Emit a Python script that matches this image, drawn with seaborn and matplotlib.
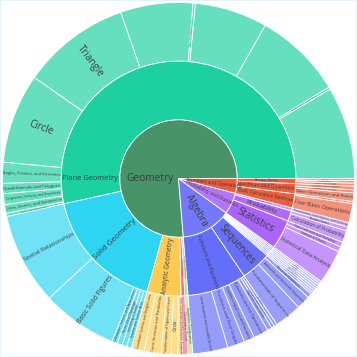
import numpy as np
import pandas as pd
import matplotlib
matplotlib.use("Agg")
import matplotlib.pyplot as plt
import seaborn as sns
from matplotlib.textpath import TextPath
from matplotlib.font_manager import FontProperties
from matplotlib.colors import to_rgb, to_hex

sns.set_theme(style="white")
plt.rcParams["font.family"] = ["Open Sans", "DejaVu Sans"]

# ---------------- data (leaf level, counter-clockwise from 3 o'clock) ----------------
leaf_domain = (
    ["Geometry"] * 13 + ["Geometry"] * 6 + ["Geometry"] * 5 + ["Geometry"] * 2
    + ["Algebra"] * 7 + ["Algebra"] * 3 + ["Algebra"] * 7
    + ["Probability and Statistics"] * 6
    + ["Numbers and Operations"] * 8
)
leaf_branch = (
    ["Plane Geometry"] * 13
    + ["Solid Geometry"] * 6
    + ["Analytic Geometry"] * 5
    + ["Geometric Proof", "Geometric Construction"]
    + ["Functions and Equations"] * 7
    + ["Sequences"] * 3
    + ["Trigonometry", "Vectors", "Complex Numbers", "Matrices", "Logarithms", "Exponents", "Sets"]
    + ["Statistics"] * 3 + ["Probability"] * 2 + ["Counting Principles"]
    + ["Basic Calculation Methods"] * 2 + ["Maximum and Quantities"] * 3 + ["Number Theory"] * 3
)
leaf_topic = [
    "Plane Figures", "Basic Relationships and Measurements", "Geometric Measurement",
    "Symmetry and Transformations", "Relationships Between Basic Figures", "Area and Perimeter",
    "Triangle", "Circle", "Angles, Position, and Directions", "Quadrilaterals and Polygons",
    "Congruence, Similarity, and Proportions", "Lines, Vectors, and Symmetries",
    "Measurement and Estimation",
    "Spatial Relationships", "Basic Solid Figures", "Calculation, Vectors, and Applications",
    "Three-View Drawings", "Unfolding of Solids", "Volume and Surface Area",
    "Coordinate Systems and Straight Lines", "Conic Sections and Parabolas",
    "Transformation of Figures and Curves", "Circle", "Polar Coordinates and Parametric Equations",
    "Geometric Proof", "Geometric Construction",
    "Linear Equations and Inequality Systems", "Functions and Their Graphs",
    "Quadratic Equations and Functions", "Relations and Set Operations",
    "Algebraic Expressions", "Polynomials and Factoring", "Inequalities",
    "Fundamentals of Sequences", "Arithmetic and Geometric Sequences", "Recursive Sequences",
    "Trigonometric Functions", "Vector Operations", "Complex Numbers", "Matrices",
    "Logarithms", "Exponents", "Sets",
    "Statistical Data Analysis", "Statistical Charts", "Data Collection and Sampling",
    "Calculation of Probability", "Random Events", "Permutations, Combinations, and Counting",
    "Four Basic Operations", "Mixed Operations",
    "Basic Operations and Ratios", "Fractions and Decimals", "Units and Measurement",
    "Factors and Multiples", "Prime Numbers", "Divisibility",
]
leaf_count = [
    30.5, 0.8, 29.2, 24.0, 0.8, 23.9, 35.8, 29.7, 6.9, 3.4, 3.6, 2.9, 1.0,
    30.3, 25.0, 1.8, 1.7, 1.6, 1.6,
    4.3, 5.5, 3.3, 2.2, 1.5,
    1.8, 1.6,
    11.6, 5.7, 3.5, 5.0, 1.5, 1.0, 1.0,
    9.0, 4.5, 1.5,
    0.75, 0.75, 0.75, 0.75, 0.75, 0.75, 0.7,
    11.3, 1.7, 1.6,
    3.9, 1.3, 1.5,
    6.3, 0.7,
    2.8, 1.0, 1.2,
    1.0, 0.8, 0.7,
]

domain_colors = {
    "Geometry": "#489468",
    "Algebra": "#7479f9",
    "Probability and Statistics": "#b476f9",
    "Numbers and Operations": "#ee5a3c",
}
branch_colors = {
    "Plane Geometry": "#1dd0a0", "Solid Geometry": "#2dd5f2", "Analytic Geometry": "#fecb52",
    "Geometric Proof": "#ff6692", "Geometric Construction": "#b6e880",
    "Functions and Equations": "#636efa", "Sequences": "#6870f8",
    "Trigonometry": "#8d93fb", "Vectors": "#8d93fb", "Complex Numbers": "#8d93fb",
    "Matrices": "#8d93fb", "Logarithms": "#8d93fb", "Exponents": "#8d93fb", "Sets": "#8d93fb",
    "Statistics": "#ab63fa", "Probability": "#b06cf8", "Counting Principles": "#c49bfb",
    "Basic Calculation Methods": "#ef5f3f", "Maximum and Quantities": "#ef5f3f",
    "Number Theory": "#ef5f3f",
}
hidden_labels = {"Plane Figures", "Geometric Measurement", "Symmetry and Transformations",
                 "Area and Perimeter"}

# ---------------- build table ----------------
df = pd.DataFrame({"domain": leaf_domain, "branch": leaf_branch,
                   "topic": leaf_topic, "count": leaf_count})
total = df["count"].sum()

def lighten(c, t):
    r, g, b = to_rgb(c)
    return to_hex((r + (1 - r) * t, g + (1 - g) * t, b + (1 - b) * t))

DPI = 100
fig = plt.figure(figsize=(3.57, 3.57), dpi=DPI)
fig.patch.set_facecolor("white")
ax = fig.add_axes([0, 0, 1, 1], projection="polar")
ax.set_ylim(0, 3 * 178.5 / 176)
ax.set_axis_off()
UNIT = 176 / 3.0  # px per ring
fp = FontProperties(family="Open Sans")
TXT = "#3c3c3c"

def fit_size(text, length_px, height_px, cap):
    w = TextPath((0, 0), text, size=1, prop=fp).get_extents().width
    px_per_pt = DPI / 72.0
    fs_len = length_px / (w * px_per_pt)
    fs_h = height_px / (1.05 * px_per_pt)
    return min(cap, fs_len, fs_h)

def radial_label(text, th0, th1, r0, r1, r_text=None, cap=7.0):
    mid = (th0 + th1) / 2
    r_text = (r0 + r1) / 2 if r_text is None else r_text
    dth = np.deg2rad(th1 - th0)
    fs = fit_size(text, (r1 - r0) * UNIT * 0.96, r_text * UNIT * dth * 0.85, cap)
    if fs < 1.0:
        return
    m = (mid + 180) % 360 - 180
    rot = m if -90 < m <= 90 else m - 180
    ax.text(np.deg2rad(mid), r_text, text, rotation=rot, rotation_mode="anchor",
            ha="center", va="center", fontsize=fs, color=TXT)

def draw_ring(starts, widths, ring, colors):
    ax.bar(np.deg2rad(starts), 1.0, width=np.deg2rad(widths), bottom=ring,
           align="edge", color=colors, edgecolor="white", linewidth=0.6)

# ring 3: leaves
deg = df["count"] / total * 360
df["start"] = deg.cumsum() - deg
df["width"] = deg
draw_ring(df["start"].values, df["width"].values, 2,
          [lighten(branch_colors[b], 0.32) for b in df["branch"]])
for _, row in df.iterrows():
    if row["topic"] not in hidden_labels:
        radial_label(row["topic"], row["start"], row["start"] + row["width"], 2, 3)

# ring 2: branches
br = df.groupby(["domain", "branch"], sort=False)["count"].sum().reset_index()
bdeg = br["count"] / total * 360
br["start"] = bdeg.cumsum() - bdeg
br["width"] = bdeg
draw_ring(br["start"].values, br["width"].values, 1,
          [branch_colors[b] for b in br["branch"]])
for _, row in br.iterrows():
    if row["branch"] == "Plane Geometry":
        continue
    radial_label(row["branch"], row["start"], row["start"] + row["width"], 1, 2)

# ring 1: domains
dm = df.groupby("domain", sort=False)["count"].sum().reset_index()
ddeg = dm["count"] / total * 360
dm["start"] = ddeg.cumsum() - ddeg
dm["width"] = ddeg
draw_ring(dm["start"].values, dm["width"].values, 0,
          [domain_colors[d] for d in dm["domain"]])
for _, row in dm.iterrows():
    if row["domain"] == "Geometry":
        continue
    radial_label(row["domain"], row["start"], row["start"] + row["width"], 0, 1,
                 r_text=0.62, cap=7.0)

# horizontal labels of the two large sectors
fig.text(150 / 357, 1 - 179 / 357, "Geometry", ha="center", va="center",
         fontsize=7.3, color=TXT)
fig.text(90 / 357, 1 - 178 / 357, "Plane Geometry", ha="center", va="center",
         fontsize=5.4, color=TXT)

fig.patches.append(plt.Rectangle((0, 0), 1, 1, transform=fig.transFigure, fill=False,
                                 edgecolor="#e6f2fa", linewidth=1.5))
fig.savefig("out.png", dpi=DPI)
